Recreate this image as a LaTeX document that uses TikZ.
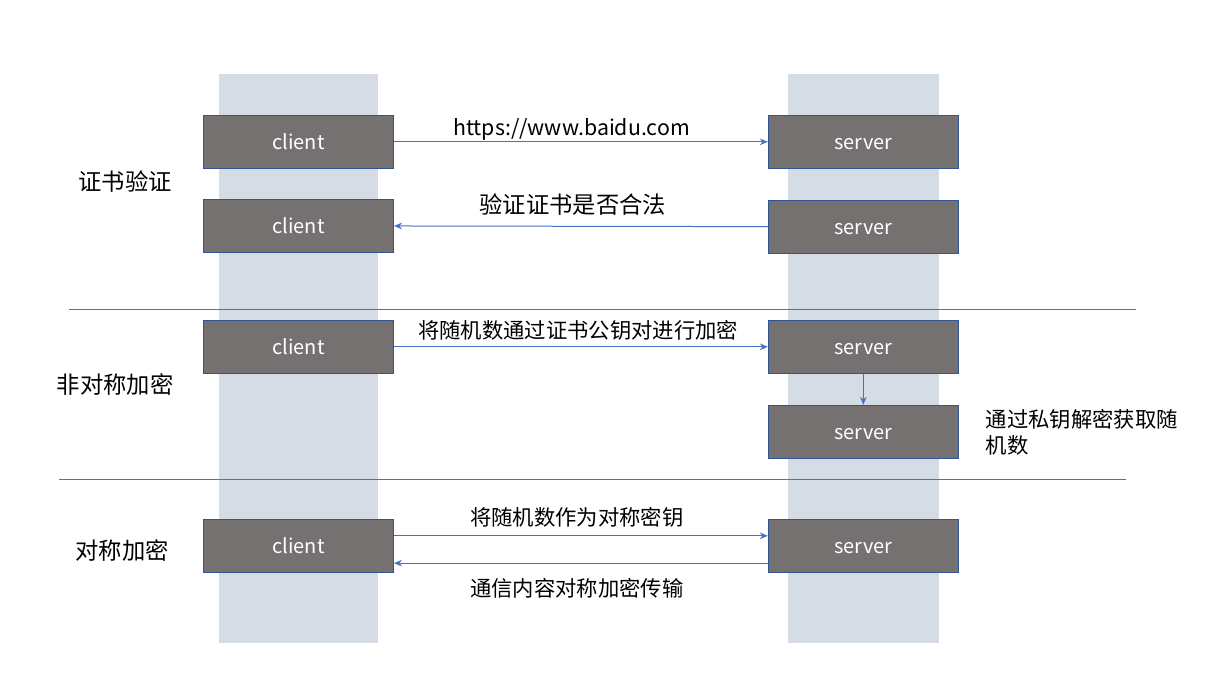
\documentclass[tikz,border=0pt]{standalone}
\usepackage{fontspec}
\setmainfont{Noto Sans CJK SC}
\usetikzlibrary{positioning,arrows.meta}
\definecolor{lanefill}{HTML}{D6DCE5}
\definecolor{boxfill}{HTML}{767171}
\definecolor{boxline}{HTML}{2F5597}
\definecolor{flow}{HTML}{4472C4}
\begin{document}
\begin{tikzpicture}[
    x=0.75pt, y=-0.75pt,
    box/.style={draw=boxline, fill=boxfill, line width=0.75pt, minimum width=142.5pt, minimum height=39.75pt, inner sep=0pt, text height=14pt, text depth=2pt, text=white, font=\fontsize{15}{18}\selectfont},
    arrow/.style={-{Stealth[length=6pt,width=5pt]}, draw=flow, line width=0.75pt},
    sepline/.style={draw=flow, line width=0.9pt},
    lane/.style={fill=lanefill, draw=none},
    msg/.style={font=\fontsize{16}{19}\selectfont},
    stage/.style={font=\fontsize{17.5}{21}\selectfont}
]
    \useasboundingbox (0,0) rectangle (1220,685);
    % lanes
    \fill[lane] (219,74) rectangle (378,643);
    \fill[lane] (788,74) rectangle (939,643);
    % separators
    \draw[sepline] (69,309.3) -- (1136,309.3);
    \draw[sepline] (59,479.3) -- (1126,479.3);

    \node[box] (client1) at (298.5,141.8) {client};
    \node[box] (client2) at (298.5,225.8) {client};
    \node[box] (client3) at (298.5,346.8) {client};
    \node[box] (client4) at (298.5,545.8) {client};
    \node[box] (server1) at (863.3,141.8) {server};
    \node[box] (server2) at (863.3,226.8) {server};
    \node[box] (server3) at (863.3,346.8) {server};
    \node[box] (server4) at (863.3,431.8) {server};
    \node[box] (server5) at (863.3,545.8) {server};

    \node[stage] (cert) at (125,182) {证书验证};
    \node[stage] (asym) at (115,385) {非对称加密};
    \node[stage] (sym) at (122,551) {对称加密};

    \draw[arrow] (client1) -- node[msg, above=-3pt, xshift=-7pt] {https://www.baidu.com} (server1);
    \draw[arrow] (server2) -- node[stage, above=4.5pt, xshift=-6pt] {验证证书是否合法} (client2);
    \draw[arrow] (client3) -- node[msg, above=1.5pt, xshift=-2pt] {将随机数通过证书公钥对进行加密} (server3);
    \draw[arrow] (server3) -- (server4);
    \node[msg, anchor=north west, align=left, text width=200pt] (decrypt) at (981,405) {通过私钥解密获取随\\机数};
    \draw[arrow] ([yshift=7.5pt]client4.east) -- node[msg, above=2.5pt, xshift=-3pt] {将随机数作为对称密钥} ([yshift=7.5pt]server5.west);
    \draw[arrow] ([yshift=-13pt]server5.west) -- node[msg, below=7.5pt, xshift=-3pt] {通信内容对称加密传输} ([yshift=-13pt]client4.east);
\end{tikzpicture}
\end{document}
